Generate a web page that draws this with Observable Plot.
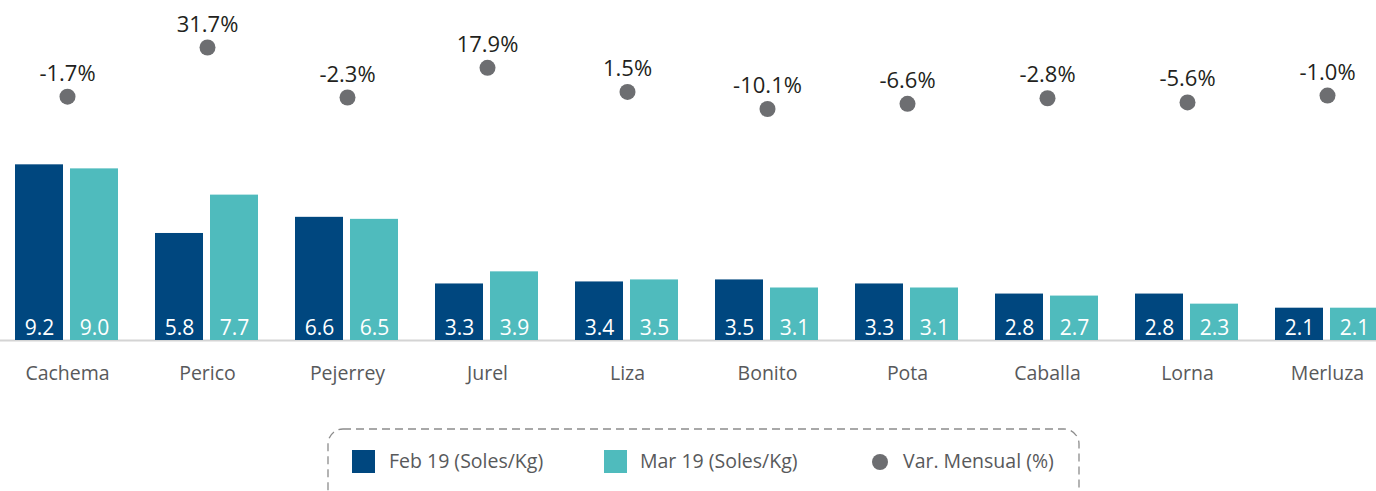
<!DOCTYPE html>
<html>
<head>
<meta charset="utf-8">
<script src="https://cdn.jsdelivr.net/npm/d3@7"></script>
<script src="https://cdn.jsdelivr.net/npm/@observablehq/plot@0.6"></script>
<style>
  html, body { margin: 0; padding: 0; background: #fff; }
  #wrap { position: relative; width: 1376px; height: 491px; overflow: hidden; font-family: "Open Sans", sans-serif; }
  #topPlot, #barsPlot { position: absolute; left: 0; }
  #topPlot { top: 0; }
  #barsPlot { top: 130px; }
  #legend { position: absolute; left: 327px; top: 428px; width: 753px; height: 92px; }
  #legend svg.border { position: absolute; left: 0; top: 0; }
  .sw { position: absolute; width: 23px; height: 23px; top: 22px; }
  .lt { position: absolute; top: 18px; font-size: 19.5px; color: #58595b; white-space: nowrap; line-height: 30px; }
  .dot { position: absolute; width: 16px; height: 16px; border-radius: 50%; top: 26px; }
</style>
</head>
<body>
<div id="wrap">
  <div id="topPlot"></div>
  <div id="barsPlot"></div>
  <div id="legend">
    <svg class="border" width="753" height="92"><rect x="1" y="1" width="751" height="90" rx="15" ry="15" fill="none" stroke="#8c8c8c" stroke-width="1.3" stroke-dasharray="8 5"/></svg>
    <div class="sw" style="left:25px;background:#00477f"></div>
    <div class="lt" style="left:62px">Feb 19 (Soles/Kg)</div>
    <div class="sw" style="left:277px;background:#4fbbbd"></div>
    <div class="lt" style="left:313px">Mar 19 (Soles/Kg)</div>
    <div class="dot" style="left:545px;background:#6d6e71"></div>
    <div class="lt" style="left:576px">Var. Mensual (%)</div>
  </div>
</div>
<script>
const categories = ["Cachema", "Perico", "Pejerrey", "Jurel", "Liza", "Bonito", "Pota", "Caballa", "Lorna", "Merluza"];
const feb19 = [9.2, 5.8, 6.6, 3.3, 3.4, 3.5, 3.3, 2.8, 2.8, 2.1];
const mar19 = [9.0, 7.7, 6.5, 3.9, 3.5, 3.1, 3.1, 2.7, 2.3, 2.1];
const varMensual = [-1.7, 31.7, -2.3, 17.9, 1.5, -10.1, -6.6, -2.8, -5.6, -1.0];
const yBase = 0.5;

const rows = categories.map((c, i) => ({cat: c, feb: feb19[i], mar: mar19[i], v: varMensual[i]}));

const xScale = {type: "band", domain: categories, range: [-3, 1397], padding: 0, label: null};
const fmtPct = d => d.toFixed(1) + "%";

const dotsChart = Plot.plot({
  width: 1376, height: 130,
  marginTop: 0, marginBottom: 0, marginLeft: 0, marginRight: 0,
  style: {fontFamily: "Open Sans, sans-serif", overflow: "visible"},
  x: {...xScale, axis: null},
  y: {domain: [d3.min(varMensual), d3.max(varMensual)], range: [108.5, 47], axis: null},
  marks: [
    Plot.dot(rows, {x: "cat", y: "v", r: 8, fill: "#6d6e71"}),
    Plot.text(rows, {x: "cat", y: "v", text: d => fmtPct(d.v), dy: -23, fontSize: 22, fill: "#231f20", letterSpacing: "0.6px"})
  ]
});
document.getElementById("topPlot").appendChild(dotsChart);

const barsChart = Plot.plot({
  width: 1376, height: 280,
  marginTop: 0, marginBottom: 70, marginLeft: 0, marginRight: 0,
  style: {fontFamily: "Open Sans, sans-serif", overflow: "visible"},
  x: {...xScale, axis: null},
  y: {domain: [yBase, 10.9], axis: null},
  marks: [
    Plot.ruleY([yBase], {stroke: "#d4d4d4", strokeWidth: 2}),
    Plot.barY(rows, {x: "cat", y: "feb", fill: "#00477f", insetLeft: 18, insetRight: 74, clip: true}),
    Plot.barY(rows, {x: "cat", y: "mar", fill: "#4fbbbd", insetLeft: 73, insetRight: 19, clip: true}),
    Plot.text(rows, {x: "cat", y: yBase, text: d => d.feb.toFixed(1), dx: -28, dy: -12.5, fontSize: 21, fill: "white", letterSpacing: "0.5px"}),
    Plot.text(rows, {x: "cat", y: yBase, text: d => d.mar.toFixed(1), dx: 27, dy: -12.5, fontSize: 21, fill: "white", letterSpacing: "0.5px"}),
    Plot.axisX({tickSize: 0, tickPadding: 26, fontSize: 19.5, fill: "#58595b", anchor: "bottom", label: null})
  ]
});
document.getElementById("barsPlot").appendChild(barsChart);
</script>
</body>
</html>
